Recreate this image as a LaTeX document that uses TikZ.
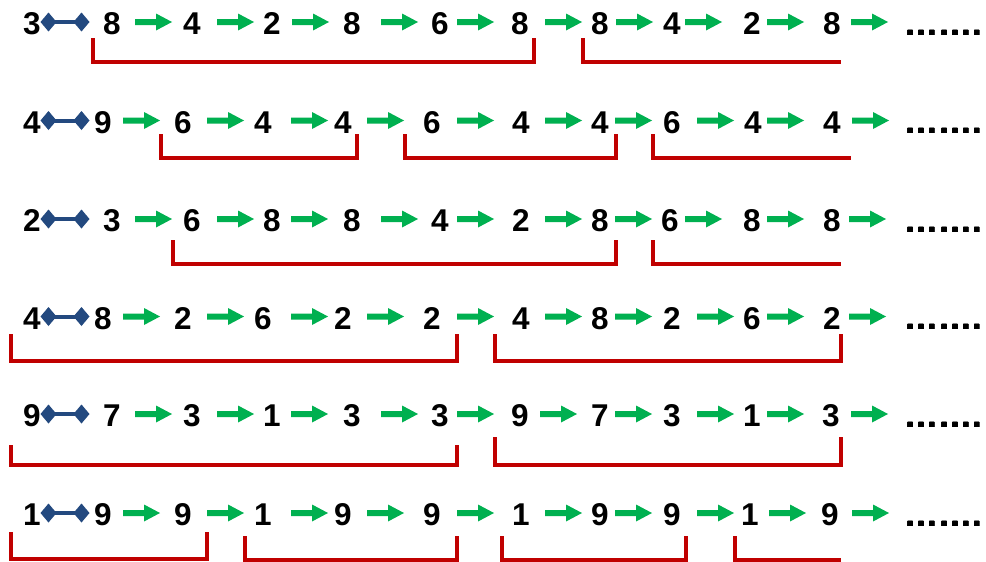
\documentclass[tikz,border=0pt]{standalone}
\usepackage{fontspec}
\setmainfont{Liberation Sans}
\definecolor{agreen}{RGB}{0,176,80}
\definecolor{dblue}{RGB}{35,73,127}
\definecolor{bred}{RGB}{192,0,0}
\newcommand\garrow[2]{%
  \fill[agreen] (#1,#2-3) -- (#1+21,#2-3) -- (#1+21,#2-8.5) -- (#1+37,#2)
     -- (#1+21,#2+8.5) -- (#1+21,#2+3) -- (#1,#2+3) -- cycle;}
\newcommand\dconn[2]{%
  \fill[dblue] (#1+12,#2-2) rectangle (#1+36,#2+2);
  \fill[dblue] (#1-0.5,#2) -- (#1+7.5,#2-9.5) -- (#1+15.5,#2) -- (#1+7.5,#2+9.5) -- cycle;
  \fill[dblue] (#1+32.5,#2) -- (#1+40.5,#2-9.5) -- (#1+48.5,#2) -- (#1+40.5,#2+9.5) -- cycle;}
\begin{document}
\begin{tikzpicture}[x=1pt,y=-1pt,
  digit/.style={font=\fontsize{31.5}{36}\selectfont\bfseries, inner sep=0pt, text=black},
  dotsnode/.style={font=\fontsize{34}{36}\selectfont\bfseries, inner sep=0pt, anchor=base west},
  bracket/.style={draw=bred, line width=3.5pt},
  thinbracket/.style={draw=bred, line width=3.1pt}]
\useasboundingbox (0,0) rectangle (986,562);
\fill[white] (0,0) rectangle (986,562);

% ---------- Row 1
\def\ry{24}
\foreach \x/\d [count=\i] in {32/3,112/8,192/4,272/2,352/8,440/6,520/8,600/8,672/4,752/2,832/8}
  \node[digit] (r1-\i) at (\x,\ry) {\d};
\dconn{41}{\ry-2}
\foreach \a in {135,217,292,381,457,545,616,685,767,851} \garrow{\a}{\ry-2}
\node[dotsnode] (dots1) at (904,\ry+11) {…….};
\draw[bracket] (93,38) |- (534,62) -- (534,38);
\draw[bracket] (583,38) |- (841,62);

% ---------- Row 2
\def\ry{122.5}
\foreach \x/\d [count=\i] in {32/4,103/9,183/6,263/4,343/4,432/6,521/4,600/4,672/6,753/4,832/4}
  \node[digit] (r2-\i) at (\x,\ry) {\d};
\dconn{41}{\ry-2}
\foreach \a in {123,207,291,367,457,545,615,697,767,852} \garrow{\a}{\ry-2}
\node[dotsnode] (dots2) at (904,\ry+11) {…….};
\draw[bracket] (161,134) |- (357,158) -- (357,134);
\draw[bracket] (405,134) |- (616,158) -- (616,134);
\draw[bracket] (653,134) |- (851,158);

% ---------- Row 3
\def\ry{221}
\foreach \x/\d [count=\i] in {32/2,112/3,192/6,272/8,352/8,440/4,521/2,600/8,670/6,752/8,832/8}
  \node[digit] (r3-\i) at (\x,\ry) {\d};
\dconn{41}{\ry-2}
\foreach \a in {135,217,291,381,457,545,615,685,767,849} \garrow{\a}{\ry-2}
\node[dotsnode] (dots3) at (904,\ry+11) {…….};
\draw[bracket] (173,240) |- (616,264) -- (616,240);
\draw[bracket] (653,240) |- (841,264);

% ---------- Row 4
\def\ry{318.5}
\foreach \x/\d [count=\i] in {32/4,103/8,183/2,263/6,343/2,432/2,521/4,600/8,672/2,752/6,832/2}
  \node[digit] (r4-\i) at (\x,\ry) {\d};
\dconn{41}{\ry-2}
\foreach \a in {123,207,291,367,457,545,615,697,767,849} \garrow{\a}{\ry-2}
\node[dotsnode] (dots4) at (904,\ry+11) {…….};
\draw[bracket] (11,334) |- (457,361) -- (457,334);
\draw[bracket] (495,334) |- (841,361) -- (841,334);

% ---------- Row 5
\def\ry{416}
\foreach \x/\d [count=\i] in {32/9,112/7,192/3,272/1,352/3,440/3,520/9,600/7,672/3,752/1,831/3}
  \node[digit] (r5-\i) at (\x,\ry) {\d};
\dconn{41}{\ry-2}
\foreach \a in {135,217,291,381,457,540,615,697,767,851} \garrow{\a}{\ry-2}
\node[dotsnode] (dots5) at (904,\ry+11) {…….};
\draw[bracket] (11,445) |- (457,465) -- (457,445);
\draw[bracket] (495,437) |- (841,465) -- (841,437);

% ---------- Row 6
\def\ry{515}
\foreach \x/\d [count=\i] in {32/1,103/9,183/9,263/1,343/9,432/9,521/1,600/9,672/9,750/1,830/9}
  \node[digit] (r6-\i) at (\x,\ry) {\d};
\dconn{41}{\ry-2}
\foreach \a in {123,207,291,367,457,545,615,697,769,852} \garrow{\a}{\ry-2}
\node[dotsnode] (dots6) at (904,\ry+11) {…….};
\draw[bracket] (11,532) |- (207,559) -- (207,532);
\draw[thinbracket] (245,536) |- (457,560) -- (457,536);
\draw[thinbracket] (502,536) |- (686,560) -- (686,536);
\draw[thinbracket] (735,536) |- (841,560);
\end{tikzpicture}
\end{document}
